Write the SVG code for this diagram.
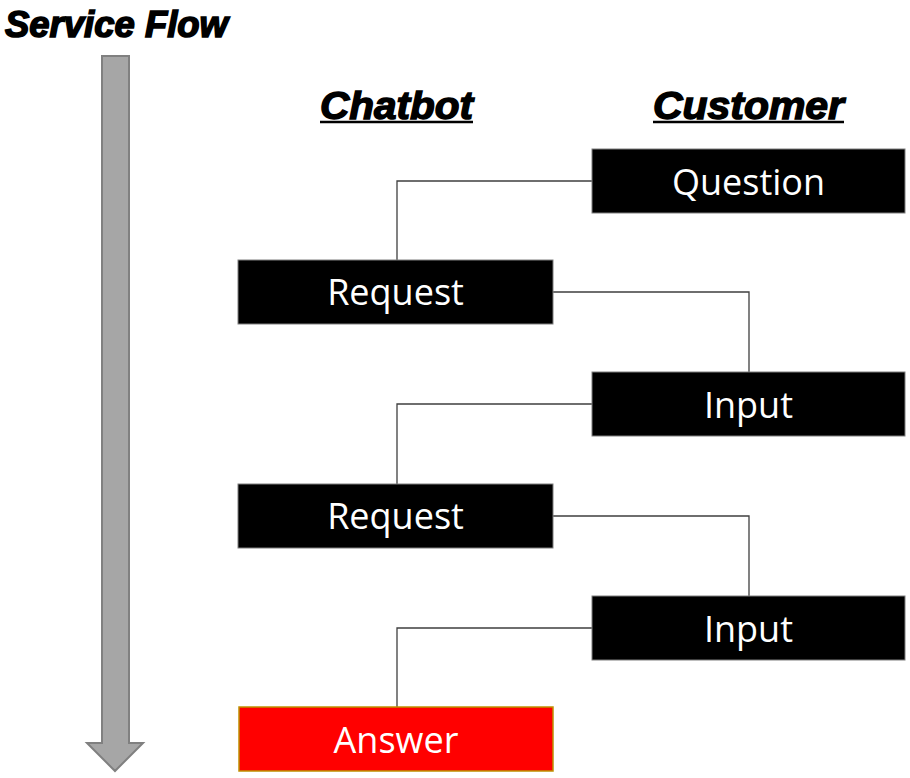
<svg xmlns="http://www.w3.org/2000/svg" width="910" height="778" viewBox="0 0 910 778">
<style>
.box{fill:#000;stroke:#7f7f7f;stroke-width:1}
.ans{fill:#ff0000;stroke:#bf9000;stroke-width:1.5}
.lbl{font-family:"Open Sans","Noto Sans",sans-serif;font-size:36px;fill:#fff;text-anchor:middle}
.hdr{font-family:"Liberation Sans",Arial,sans-serif;font-weight:bold;font-style:italic;fill:#000;stroke:#000}
.conn{fill:none;stroke:#3f3f3f;stroke-width:1.3}
</style>
<rect width="910" height="778" fill="#fff"/>
<g id="title">
<text class="hdr" x="5" y="37" font-size="37" textLength="223" lengthAdjust="spacingAndGlyphs" stroke-width="1.6">Service Flow</text>
</g>
<g id="flow-arrow">
<path d="M102,56 H129 V743 H143 L115,771 L87,743 H102 Z" fill="#a6a6a6" stroke="#808080" stroke-width="2"/>
</g>
<g id="header-chatbot">
<text class="hdr" x="320" y="119" font-size="38" textLength="153" lengthAdjust="spacingAndGlyphs" stroke-width="1.4">Chatbot</text>
<line x1="320" y1="122" x2="473" y2="122" stroke="#000" stroke-width="2.5"/>
</g>
<g id="header-customer">
<text class="hdr" x="653" y="119" font-size="38" textLength="191" lengthAdjust="spacingAndGlyphs" stroke-width="1.4">Customer</text>
<line x1="653" y1="122" x2="844" y2="122" stroke="#000" stroke-width="2.5"/>
</g>
<g id="connectors">
<path class="conn" d="M592,181 H397 V260"/>
<path class="conn" d="M553,292 H749 V372"/>
<path class="conn" d="M592,404 H397 V484"/>
<path class="conn" d="M553,516 H749 V596"/>
<path class="conn" d="M592,628 H397 V707"/>
</g>
<g id="question">
<rect class="box" x="592" y="149" width="313" height="64"/>
<text class="lbl" x="748.5" y="195">Question</text>
</g>
<g id="request1">
<rect class="box" x="238" y="260" width="315" height="64"/>
<text class="lbl" x="395.5" y="305">Request</text>
</g>
<g id="input1">
<rect class="box" x="592" y="372" width="313" height="64"/>
<text class="lbl" x="748.5" y="418">Input</text>
</g>
<g id="request2">
<rect class="box" x="238" y="484" width="315" height="64"/>
<text class="lbl" x="395.5" y="529">Request</text>
</g>
<g id="input2">
<rect class="box" x="592" y="596" width="313" height="64"/>
<text class="lbl" x="748.5" y="642">Input</text>
</g>
<g id="answer">
<rect class="ans" x="239" y="707" width="314" height="64"/>
<text class="lbl" x="396" y="753">Answer</text>
</g>
</svg>
